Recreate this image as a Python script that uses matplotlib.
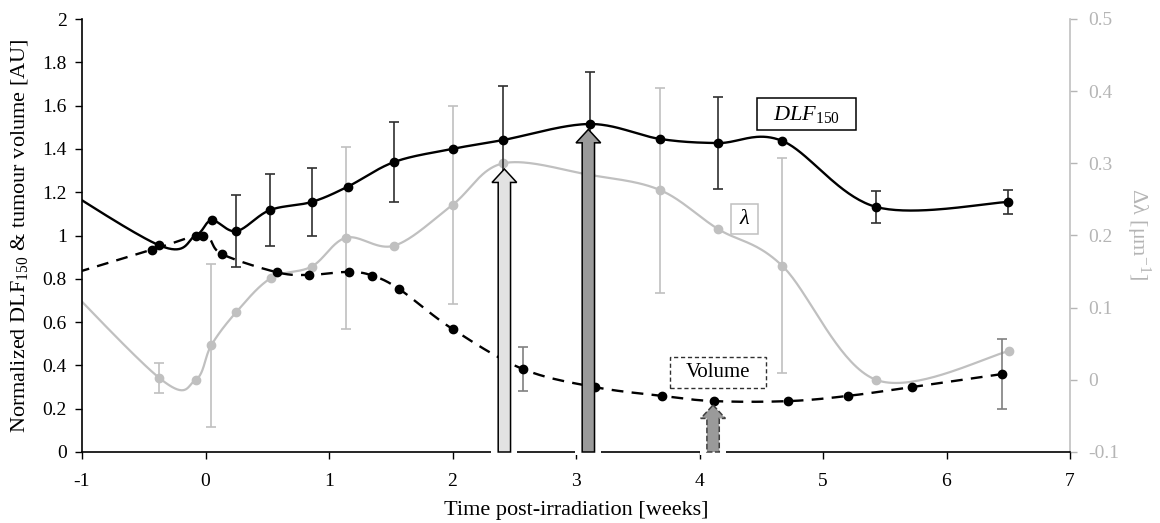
import numpy as np
import matplotlib
matplotlib.use("Agg")
import matplotlib.pyplot as plt
from matplotlib.patches import FancyArrow, Rectangle

plt.rcParams['font.family'] = ['Liberation Serif', 'DejaVu Serif']
plt.rcParams['mathtext.fontset'] = 'custom'
plt.rcParams['mathtext.rm'] = 'Liberation Serif'
plt.rcParams['mathtext.it'] = 'Liberation Serif:italic'

# ---------------- data ----------------
dlf_x = [-1.5, -0.38, -0.08, 0.05, 0.25, 0.52, 0.86, 1.15, 1.53, 2.00, 2.41, 3.11, 3.68, 4.15, 4.67, 5.43, 6.50]
dlf_y = [1.345, 0.956, 1.00, 1.07, 1.02, 1.117, 1.155, 1.225, 1.34, 1.40, 1.441, 1.515, 1.446, 1.427, 1.437, 1.132, 1.155]
dlf_err = [0, 0, 0, 0, 0.165, 0.165, 0.155, 0, 0.185, 0, 0.25, 0.24, 0, 0.213, 0, 0.074, 0.057]

vol_x = [-1.5, -0.43, -0.02, 0.13, 0.58, 0.84, 1.16, 1.35, 1.57, 2.00, 2.57, 3.15, 3.70, 4.12, 4.72, 5.20, 5.72, 6.45]
vol_y = [0.75, 0.935, 1.00, 0.915, 0.83, 0.818, 0.832, 0.815, 0.752, 0.568, 0.383, 0.30, 0.259, 0.235, 0.235, 0.259, 0.30, 0.36]
vol_err = [0, 0, 0, 0, 0, 0, 0, 0, 0, 0, 0.10, 0, 0, 0, 0, 0, 0, 0.16]

lam_x = [-1.5, -0.377, -0.08, 0.047, 0.25, 0.53, 0.86, 1.14, 1.53, 2.0, 2.41, 3.11, 3.68, 4.15, 4.67, 5.43, 6.51]
lam_y = [0.198, 0.003, 0.0, 0.048, 0.094, 0.141, 0.157, 0.197, 0.186, 0.2425, 0.30, 0.284, 0.263, 0.209, 0.158, 0.0, 0.040]
lam_err = [0, 0.021, 0, 0.113, 0, 0, 0, 0.126, 0, 0.137, 0, 0, 0.142, 0, 0.149, 0, 0]

# arrows: (x, tip y, face, edge, style)
arrow_x = [2.42, 3.10, 4.11]
arrow_tip = [1.307, 1.49, 0.217]
arrow_face = ['#e2e2e2', '#9a9a9a', '#9a9a9a']
arrow_edge = ['#000000', '#000000', '#404040']
arrow_ls = ['-', '-', '--']

x_ticks = [-1, 0, 1, 2, 3, 4, 5, 6, 7]
y_ticks = [0, 0.2, 0.4, 0.6, 0.8, 1, 1.2, 1.4, 1.6, 1.8, 2]
y2_ticks = [-0.1, 0, 0.1, 0.2, 0.3, 0.4, 0.5]


def smooth(xs, ys, n=40):
    P = np.column_stack([xs, ys]).astype(float)
    P = np.vstack([P[0], P, P[-1]])
    out = []
    t = np.linspace(0, 1, n)[:, None]
    for i in range(1, len(P) - 2):
        p0, p1, p2, p3 = P[i - 1], P[i], P[i + 1], P[i + 2]
        b1 = p1 + (p2 - p0) / 6.0
        b2 = p2 - (p3 - p1) / 6.0
        seg = ((1 - t) ** 3) * p1 + 3 * ((1 - t) ** 2) * t * b1 + 3 * (1 - t) * t ** 2 * b2 + t ** 3 * p2
        out.append(seg if i == 1 else seg[1:])
    c = np.vstack(out)
    return c[:, 0], c[:, 1]


fig = plt.figure(figsize=(11.6, 5.23), dpi=100)
ax1 = fig.add_axes([82 / 1160, 1 - 452 / 523, (1070 - 82) / 1160, (452 - 19) / 523])
ax2 = ax1.twinx()
ax1.set_zorder(ax2.get_zorder() + 1)
ax1.patch.set_visible(False)

# lambda on right axis (behind)
lx, ly = np.array(lam_x), np.array(lam_y)
sx, sy = smooth(lx, ly)
ax2.plot(sx, sy, color='#c0c0c0', lw=1.6, zorder=2)
vis = lx >= -1
ax2.plot(lx[vis], ly[vis], 'o', color='#c0c0c0', ms=6, zorder=3)
le = np.array(lam_err)
m = le > 0
ax2.errorbar(lx[m], ly[m], yerr=le[m], fmt='none', ecolor='#c0c0c0', elinewidth=1.2, capsize=3.5, capthick=1.2, zorder=4)

ax2.set_ylim(-0.1, 0.5)
ax2.set_yticks(y2_ticks)
ax2.set_yticklabels(['-0.1', '0', '0.1', '0.2', '0.3', '0.4', '0.5'])
for s in ['left', 'top', 'bottom']:
    ax2.spines[s].set_visible(False)
ax2.spines['right'].set_color('#c0c0c0')
ax2.spines['right'].set_linewidth(1.2)
ax2.tick_params(axis='y', colors='#b5b5b5', labelsize=14, length=5, width=1, pad=8)

# DLF
dx, dy = np.array(dlf_x), np.array(dlf_y)
sx, sy = smooth(dx, dy)
ax1.plot(sx, sy, color='black', lw=1.7, zorder=5)
vis = dx >= -1
ax1.plot(dx[vis], dy[vis], 'o', color='black', ms=6, zorder=6)
de = np.array(dlf_err)
m = de > 0
ax1.errorbar(dx[m], dy[m], yerr=de[m], fmt='none', ecolor='#303030', elinewidth=1.2, capsize=3.5, capthick=1.2, zorder=4)

# Volume
vx, vy = np.array(vol_x), np.array(vol_y)
sx, sy = smooth(vx, vy)
ax1.plot(sx, sy, color='black', lw=1.7, ls=(0, (5, 3.5)), zorder=5)
vis = vx >= -1
ax1.plot(vx[vis], vy[vis], 'o', color='black', ms=6, zorder=6)
ve = np.array(vol_err)
m = ve > 0
ax1.errorbar(vx[m], vy[m], yerr=ve[m], fmt='none', ecolor='#808080', elinewidth=1.2, capsize=3.5, capthick=1.2, zorder=4)

ax1.set_xlim(-1, 7)
ax1.set_ylim(0, 2)
ax1.set_xticks(x_ticks)
ax1.set_xticklabels([str(v) for v in x_ticks])
ax1.set_yticks(y_ticks)
ax1.set_yticklabels(['0', '0.2', '0.4', '0.6', '0.8', '1', '1.2', '1.4', '1.6', '1.8', '2'])
for s in ['top', 'right']:
    ax1.spines[s].set_visible(False)
for s in ['left', 'bottom']:
    ax1.spines[s].set_linewidth(1.2)
ax1.tick_params(axis='both', labelsize=14, length=5, width=1)
ax1.tick_params(axis='x', pad=10)
ax1.tick_params(axis='y', pad=6)

# arrows
for x, tip, fc, ec, ls in zip(arrow_x, arrow_tip, arrow_face, arrow_edge, arrow_ls):
    ax1.add_patch(Rectangle((x - 0.105, -0.012), 0.21, 0.024, facecolor='white', edgecolor='none',
                            zorder=7, clip_on=False))
    ax1.add_patch(FancyArrow(x, 0, 0, tip, width=0.1, head_width=0.2, head_length=0.062,
                             length_includes_head=True, facecolor=fc, edgecolor=ec, lw=1.1,
                             linestyle=ls, zorder=8, clip_on=False))

# label boxes
ax1.add_patch(Rectangle((4.466, 1.487), 0.801, 0.148, facecolor='white', edgecolor='black', lw=1.1, zorder=9))
ax1.text(4.866, 1.561, r'$\mathit{DLF}_{\mathregular{150}}$', ha='center', va='center', fontsize=16, zorder=10)
ax1.add_patch(Rectangle((4.255, 1.007), 0.219, 0.138, facecolor='white', edgecolor='#c0c0c0', lw=1.1, zorder=9))
ax1.text(4.364, 1.076, r'$\mathit{\lambda}$', ha='center', va='center', fontsize=16, zorder=10)
ax1.add_patch(Rectangle((3.761, 0.296), 0.777, 0.143, facecolor='white', edgecolor='#303030', lw=1.0,
                        linestyle=(0, (3, 2)), zorder=9))
ax1.text(4.15, 0.366, 'Volume', ha='center', va='center', fontsize=15, zorder=10)

# axis labels
fig.text(576 / 1160, 1 - 510 / 523, 'Time post-irradiation [weeks]', ha='center', va='center', fontsize=16)
fig.text(20 / 1160, 1 - 236 / 523, r'Normalized DLF$_{150}$ & tumour volume [AU]', ha='center', va='center',
         rotation=90, fontsize=16)
fig.text(1138 / 1160, 1 - 234 / 523, r'Δλ [μm$^{-1}$]', ha='center', va='center', rotation=270,
         fontsize=16, color='#b5b5b5')

fig.savefig('out.png', dpi=100)
